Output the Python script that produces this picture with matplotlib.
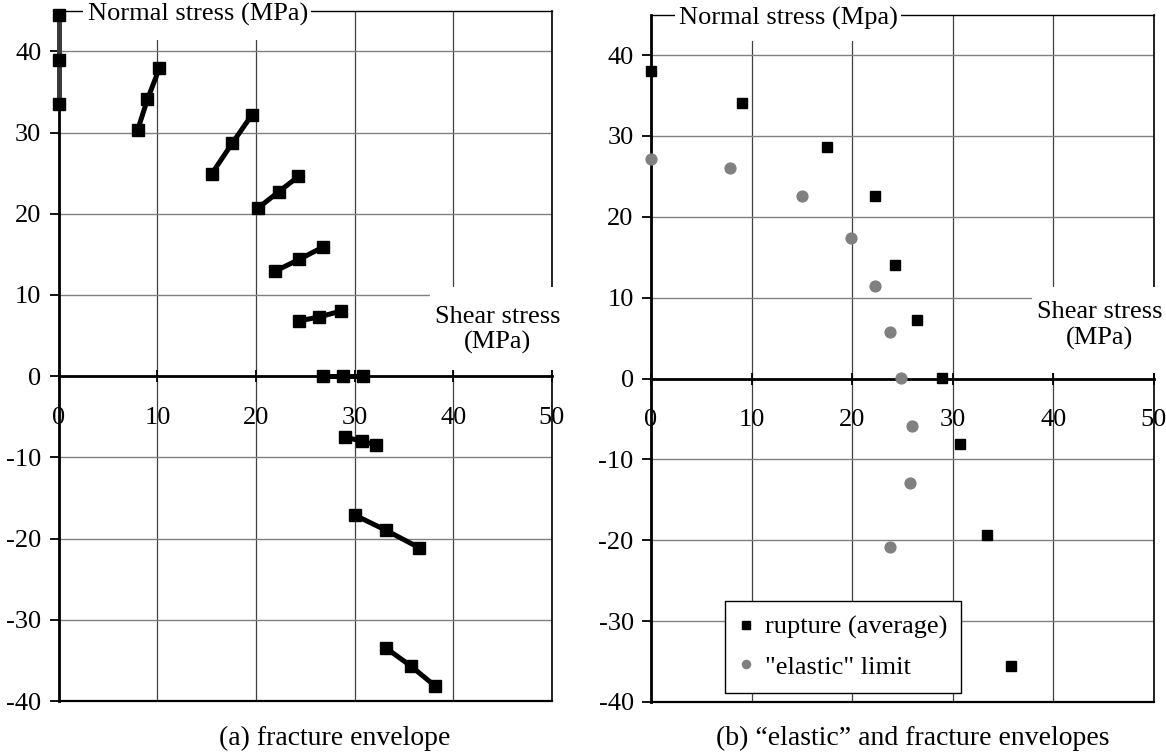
import matplotlib
matplotlib.use('Agg')
import matplotlib.pyplot as plt
from matplotlib.patches import Rectangle

# ---------------- data ----------------
x_ticks = [0, 10, 20, 30, 40, 50]
y_ticks = [-40, -30, -20, -10, 0, 10, 20, 30, 40]

# (a) fracture envelope: ten short segments of three points each
env_x = [[0, 0, 0],
         [8.0, 9.0, 10.2],
         [15.5, 17.6, 19.6],
         [20.2, 22.3, 24.3],
         [21.9, 24.4, 26.8],
         [24.4, 26.4, 28.6],
         [26.8, 28.8, 30.8],
         [29.0, 30.7, 32.2],
         [30.0, 33.2, 36.5],
         [33.2, 35.7, 38.1]]
env_y = [[44.5, 38.9, 33.5],
         [30.3, 34.1, 37.9],
         [24.9, 28.7, 32.2],
         [20.7, 22.7, 24.6],
         [12.9, 14.4, 15.9],
         [6.8, 7.3, 8.0],
         [0, 0, 0],
         [-7.5, -8.0, -8.5],
         [-17.1, -19.0, -21.1],
         [-33.5, -35.7, -38.1]]
env_colors = ['#3a3a3a'] + ['black'] * 9

# (b) elastic and fracture envelopes
rupture_x = [0, 9.0, 17.5, 22.3, 24.3, 26.4, 28.9, 30.7, 33.4, 35.8]
rupture_y = [38.0, 34.1, 28.6, 22.6, 14.1, 7.2, 0.1, -8.1, -19.3, -35.6]
elastic_x = [0, 7.9, 15.0, 19.9, 22.3, 23.8, 24.9, 25.9, 25.7, 23.8]
elastic_y = [27.1, 26.1, 22.6, 17.4, 11.4, 5.8, 0.1, -5.9, -12.9, -20.8]

label_rupture = 'rupture (average)'
label_elastic = '"elastic" limit'
ylabel_a = 'Normal stress (MPa)'
ylabel_b = 'Normal stress (Mpa)'
xlabel = 'Shear stress\n(MPa)'
caption_a = '(a) fracture envelope'
caption_b = '(b) \u201celastic\u201d and fracture envelopes'

# ---------------- style ----------------
plt.rcParams['font.family'] = ['Liberation Serif', 'DejaVu Serif']
plt.rcParams['axes.unicode_minus'] = False
FS = 19

W, H = 1166, 753
fig = plt.figure(figsize=(W / 100, H / 100), dpi=100)
axL = fig.add_axes([58.7 / W, 1 - 701 / H, (552 - 58.7) / W, (701 - 10.7) / H])
axR = fig.add_axes([651 / W, 1 - 702 / H, (1154 - 651) / W, (702 - 14.7) / H])


def style(ax, ylabel, ylab_x, ylab_box, shear_xy, shear_box):
    ax.set_xlim(0, 50)
    ax.set_ylim(-40, 45)
    ax.set_xticks(x_ticks)
    ax.set_yticks(y_ticks)
    ax.set_axisbelow(True)
    ax.yaxis.grid(True, color='#808080', lw=1.0)
    ax.xaxis.grid(True, color='#404040', lw=0.9)
    ax.spines['bottom'].set_position(('data', 0))
    ax.spines['bottom'].set_linewidth(2.0)
    ax.spines['left'].set_linewidth(2.0)
    ax.spines['top'].set_linewidth(1.0)
    ax.spines['right'].set_linewidth(1.2)
    ax.axhline(-40, color='black', lw=1.6, zorder=2.6, clip_on=False)
    ax.tick_params(axis='y', direction='out', length=6.5, width=1.3,
                   pad=6, labelsize=FS)
    ax.tick_params(axis='x', direction='inout', length=8, width=1.3,
                   pad=18, labelsize=FS)
    # white boxes behind axis titles (Excel style)
    x0, x1, y0, y1 = ylab_box
    ax.add_patch(Rectangle((x0, y0), x1 - x0, y1 - y0, facecolor='white',
                           edgecolor='none', zorder=3, clip_on=False))
    ax.text(ylab_x, 44.5, ylabel, ha='left', va='center', fontsize=FS,
            zorder=6, clip_on=False)
    x0, x1, y0, y1 = shear_box
    ax.add_patch(Rectangle((x0, y0), x1 - x0, y1 - y0, facecolor='white',
                           edgecolor='none', zorder=3, clip_on=False))
    ax.text(shear_xy[0], shear_xy[1], xlabel, ha='center', va='center',
            multialignment='center', fontsize=FS, linespacing=1.2,
            zorder=6, clip_on=False)


style(axL, ylabel_a, 3.0, (2.45, 25.6, 41.4, 47.5), (44.5, 5.7),
      (37.6, 52.0, 0.7, 10.95))
style(axR, ylabel_b, 2.8, (2.4, 24.9, 41.7, 47.5), (44.6, 6.6),
      (37.9, 51.5, 0.7, 11.3))

# ---------------- (a) ----------------
for xs, ys, c in zip(env_x, env_y, env_colors):
    axL.plot(xs, ys, color=c, lw=3.6, marker='s', markersize=8.5,
             markerfacecolor='black', markeredgecolor='black',
             zorder=4, clip_on=False)

# ---------------- (b) ----------------
axR.plot(rupture_x, rupture_y, linestyle='none', marker='s', markersize=7.5,
         color='black', label=label_rupture, zorder=4, clip_on=False)
axR.plot(elastic_x, elastic_y, linestyle='none', marker='o', markersize=7.8,
         color='#808080', label=label_elastic, zorder=4, clip_on=False)
leg = axR.legend(loc='lower left', bbox_to_anchor=(0.147, 0.013),
                 fontsize=FS, frameon=True, fancybox=False, framealpha=1,
                 edgecolor='black', borderpad=0.55, handlelength=0.5,
                 handletextpad=0.45, labelspacing=0.6, markerscale=0.75,
                 borderaxespad=0)
leg.get_frame().set_linewidth(1.0)
leg.set_zorder(7)

fig.text(335 / W, 1 - 738 / H, caption_a, ha='center', va='center', fontsize=FS + 1)
fig.text(913 / W, 1 - 738 / H, caption_b, ha='center', va='center', fontsize=FS + 1)

fig.savefig('out.png', dpi=100)
